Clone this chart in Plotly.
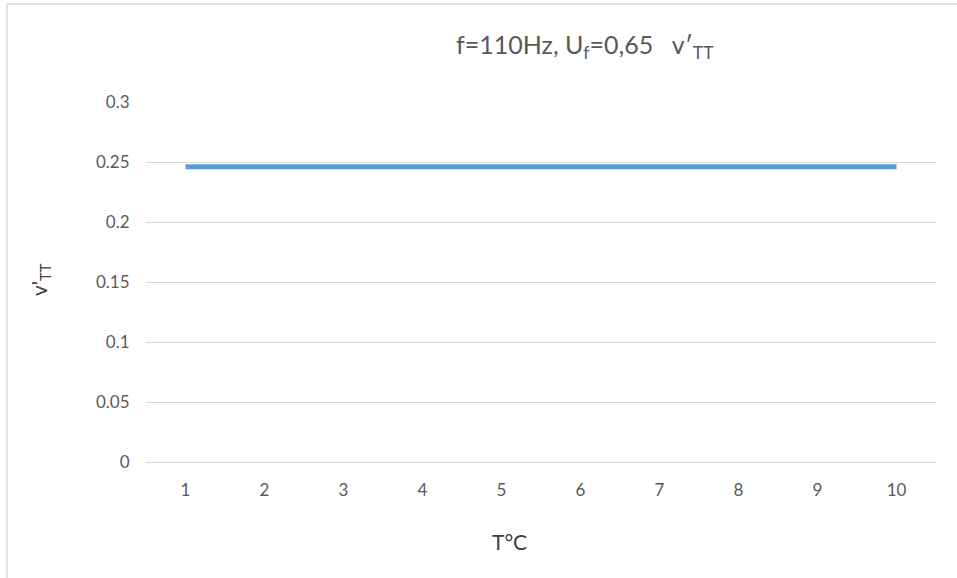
import plotly.graph_objects as go

# Temperature points (°C) and measured v'TT values
temperatures = [1, 2, 3, 4, 5, 6, 7, 8, 9, 10]
v_tt = [0.246, 0.246, 0.246, 0.246, 0.246, 0.246, 0.246, 0.246, 0.246, 0.246]
y_ticks = [0, 0.05, 0.1, 0.15, 0.2, 0.25, 0.3]
y_tick_labels = ["0", "0.05", "0.1", "0.15", "0.2", "0.25", "0.3"]

FONT = "Lato, Liberation Sans, sans-serif"
TEXT = "#595959"
GRID = "#d9d9d9"

fig = go.Figure()
fig.add_trace(go.Scatter(
    x=temperatures, y=v_tt, mode="lines",
    line=dict(color="#5b9bd5", width=5),
    showlegend=False, hoverinfo="x+y",
))

L, R, T, B = 146, 21, 102, 116
W, H = 957, 578
pw, ph = W - L - R, H - T - B

def px_x(x):
    return (x - L) / pw

def px_y(y):
    return 1 - (y - T) / ph

fig.update_layout(
    width=W, height=H,
    margin=dict(l=L, r=R, t=T, b=B),
    paper_bgcolor="white", plot_bgcolor="white",
    font=dict(family=FONT, color=TEXT, size=17),
    xaxis=dict(
        range=[0.5, 10.5], tickvals=temperatures,
        ticktext=[str(t) for t in temperatures],
        showgrid=False, zeroline=False,
        showline=False, ticks="outside", ticklen=13, tickcolor="rgba(0,0,0,0)",
        tickfont=dict(size=17, color=TEXT),
    ),
    yaxis=dict(
        range=[0, 0.3], tickvals=y_ticks, ticktext=y_tick_labels,
        showgrid=True, gridcolor=GRID, gridwidth=1,
        zeroline=True, zerolinecolor=GRID, zerolinewidth=1,
        showline=False, ticks="outside", ticklen=12, tickcolor="rgba(0,0,0,0)",
        tickfont=dict(size=17, color=TEXT),
    ),
    shapes=[
        # chart area border (top and left edges)
        dict(type="line", xref="paper", yref="paper",
             x0=px_x(7), x1=px_x(W + 5), y0=px_y(4), y1=px_y(4),
             line=dict(color=GRID, width=1.5)),
        dict(type="line", xref="paper", yref="paper",
             x0=px_x(7), x1=px_x(7), y0=px_y(4), y1=px_y(H + 5),
             line=dict(color=GRID, width=1.5)),
    ],
    annotations=[
        dict(text="f=110Hz, U<sub>f</sub>=0,65   v′<sub>TT</sub>",
             xref="paper", yref="paper", x=px_x(585), y=px_y(46),
             xanchor="center", yanchor="middle", showarrow=False,
             font=dict(size=25, color=TEXT, family=FONT)),
        dict(text="T°C", xref="paper", yref="paper",
             x=px_x(509), y=px_y(541), xanchor="center", yanchor="middle",
             showarrow=False, font=dict(size=21, color="#404040", family=FONT)),
        dict(text="v'<sub>TT</sub>", xref="paper", yref="paper",
             x=px_x(40), y=px_y(280), xanchor="center", yanchor="middle",
             textangle=-90, showarrow=False,
             font=dict(size=21, color="#404040", family=FONT)),
    ],
)

fig.write_html("out.html")
